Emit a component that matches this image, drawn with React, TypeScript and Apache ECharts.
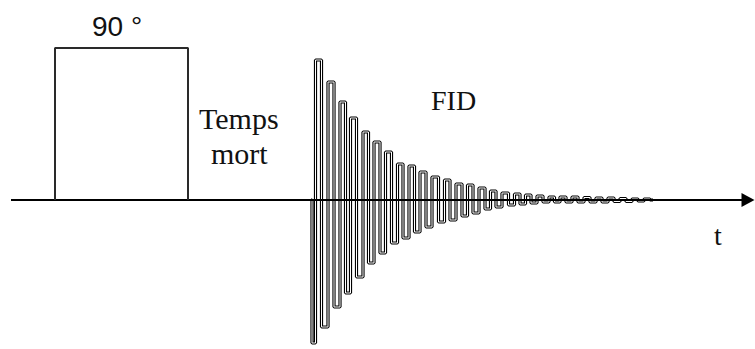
import React, { useEffect, useRef } from "react";
import * as echarts from "echarts";

// Pulse (90°) rectangle corners: x positions and amplitude (baseline = 0)
const pulseX = [55, 55, 188, 188];
const pulseY = [0, 152, 152, 0];

// Baseline (time axis) start and end
const axisX = [11, 748];

// FID extrema (x position, amplitude)
const fidX = [311, 313, 318, 325, 331, 337, 343, 348, 353, 360, 366, 371, 377, 383, 388, 395, 400, 406, 412, 417, 423, 429, 435, 442, 447, 453, 459, 465, 470, 476, 482, 488, 493, 499, 505, 512, 517, 523, 528, 534, 540, 546, 552, 557, 563, 569, 575, 581, 587, 593, 599, 605, 611, 617, 623, 629, 635, 641, 647, 653];
const fidY = [0, -143, 140, -127, 118, -107, 98, -93, 82, -77, 68, -63, 58, -53, 48, -43, 36, -38, 34, -32, 28, -27, 23, -22, 20, -20, 16, -16, 15, -13, 12, -9, 9, -7, 7, -5, 6, -4, 5, -3, 4, -2, 3, -2, 3, -2, 3, -2, 2.5, -2, 2, -2, 2, -1.5, 1.5, -1.5, 1, -1, 1, 0];

const labels = {
  pulse: "90 °",
  dead1: "Temps",
  dead2: "mort",
  fid: "FID",
  t: "t",
};

export default function App() {
  const ref = useRef<HTMLDivElement>(null);
  useEffect(() => {
    if (!ref.current) return;
    const chart = echarts.init(ref.current, null, { renderer: "svg" });
    const serif = "'Liberation Serif', 'Times New Roman', serif";
    const fidData = fidX.map((x, i) => [x, fidY[i]]);
    chart.setOption({
      animation: false,
      backgroundColor: "#ffffff",
      grid: { left: 0, right: 0, top: 0, bottom: 0 },
      xAxis: { type: "value", min: 0, max: 755, show: false },
      yAxis: { type: "value", min: -149, max: 200, show: false },
      series: [
        {
          type: "line",
          data: fidData,
          step: "middle",
          showSymbol: false,
          lineStyle: { color: "#000", width: 3.2 },
          silent: true,
          z: 2,
        },
        {
          type: "line",
          data: fidData,
          step: "middle",
          showSymbol: false,
          lineStyle: { color: "#fff", width: 1 },
          silent: true,
          z: 2,
        },
        {
          type: "line",
          data: [
            { value: [axisX[0], 0], symbol: "none" },
            {
              value: [axisX[1], 0],
              symbol: "triangle",
              symbolSize: [14, 13],
              symbolRotate: -90,
            },
          ],
          lineStyle: { color: "#000", width: 2 },
          itemStyle: { color: "#000" },
          silent: true,
          z: 3,
        },
        {
          type: "line",
          data: pulseX.map((x, i) => [x, pulseY[i]]),
          showSymbol: false,
          lineStyle: { color: "#2a2a2a", width: 2 },
          silent: true,
        },
      ],
      graphic: [
        {
          type: "text",
          left: 92,
          top: 12,
          style: { text: labels.pulse, font: "28px 'Liberation Sans', Arial, sans-serif", fill: "#111" },
        },
        {
          type: "text",
          left: 199,
          top: 103,
          style: { text: labels.dead1, font: `30px ${serif}`, fill: "#111" },
        },
        {
          type: "text",
          left: 211,
          top: 138,
          style: { text: labels.dead2, font: `30px ${serif}`, fill: "#111" },
        },
        {
          type: "text",
          left: 431,
          top: 86,
          style: { text: labels.fid, font: `28px ${serif}`, fill: "#111" },
        },
        {
          type: "text",
          left: 714,
          top: 221,
          style: { text: labels.t, font: `28px ${serif}`, fill: "#111" },
        },
      ],
    });
    return () => chart.dispose();
  }, []);
  return (
    <div
      ref={ref}
      style={{ position: "fixed", left: 0, top: 0, width: 755, height: 349 }}
    />
  );
}
